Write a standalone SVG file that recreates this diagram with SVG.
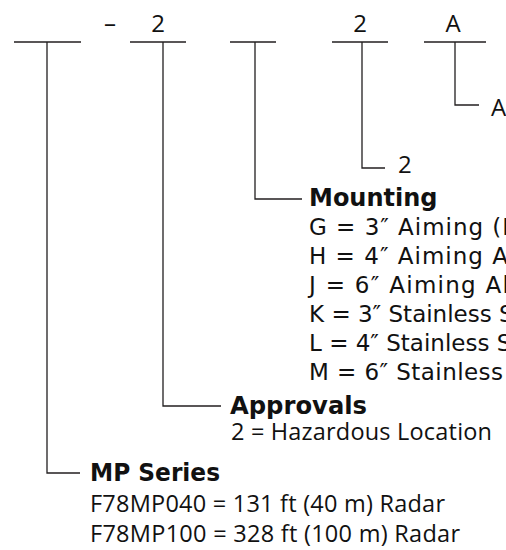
<svg xmlns="http://www.w3.org/2000/svg" width="506" height="550" viewBox="0 0 506 550">
<style>
.ln{stroke:#231f20;stroke-width:1.3;fill:none}
.hd{font-family:"Open Sans","Liberation Sans",sans-serif;font-size:24px;fill:#111}
.fb{font-family:"DejaVu Sans","Liberation Sans",sans-serif;font-weight:bold;font-size:24px;fill:#111}
.fr{font-family:"DejaVu Sans","Liberation Sans",sans-serif;font-size:23px;fill:#111}
.mr{font-family:"Open Sans","Liberation Sans",sans-serif;font-size:23.5px;fill:#111}
</style>
<rect width="506" height="550" fill="#fff"/>
<g id="header">
<text class="hd" x="110" y="32" text-anchor="middle">–</text>
<text class="hd" x="158" y="32" text-anchor="middle">2</text>
<text class="hd" x="360" y="32" text-anchor="middle">2</text>
<text class="hd" x="453" y="32" text-anchor="middle">A</text>
</g>
<g id="connectors">
<path class="ln" d="M14 42H81M47 42V473H80"/>
<path class="ln" d="M130 42H186M163 42V406H221"/>
<path class="ln" d="M230 42H276M255 42V199H302"/>
<path class="ln" d="M332 42H388M362 42V168H385"/>
<path class="ln" d="M424 42H486M455 42V105H479"/>
</g>
<g id="option-a">
<text class="hd" x="491" y="116">A</text>
</g>
<g id="option-2">
<text class="hd" x="398" y="173">2</text>
</g>
<g id="mounting">
<text class="fb" x="309" y="206">Mounting</text>
<text class="fr" x="309" y="235" textLength="211" lengthAdjust="spacing">G = 3″ Aiming (D</text>
<text class="fr" x="309" y="264" textLength="199" lengthAdjust="spacing">H = 4″ Aiming A</text>
<text class="fr" x="309" y="293" textLength="200" lengthAdjust="spacing">J = 6″ Aiming Al</text>
<text class="fr" x="309" y="322">K = 3″ Stainless S</text>
<text class="fr" x="309" y="351">L = 4″ Stainless S</text>
<text class="fr" x="309" y="380" textLength="194" lengthAdjust="spacing">M = 6″ Stainless</text>
</g>
<g id="approvals">
<text class="fb" x="230" y="414" textLength="137" lengthAdjust="spacingAndGlyphs">Approvals</text>
<text class="mr" x="231" y="440" textLength="261" lengthAdjust="spacing">2 = Hazardous Location</text>
</g>
<g id="mp-series">
<text class="fb" x="90" y="481" textLength="130" lengthAdjust="spacingAndGlyphs">MP Series</text>
<text class="mr" x="90" y="512" textLength="355" lengthAdjust="spacing">F78MP040 = 131 ft (40 m) Radar</text>
<text class="mr" x="90" y="542" textLength="370" lengthAdjust="spacing">F78MP100 = 328 ft (100 m) Radar</text>
</g>
</svg>
